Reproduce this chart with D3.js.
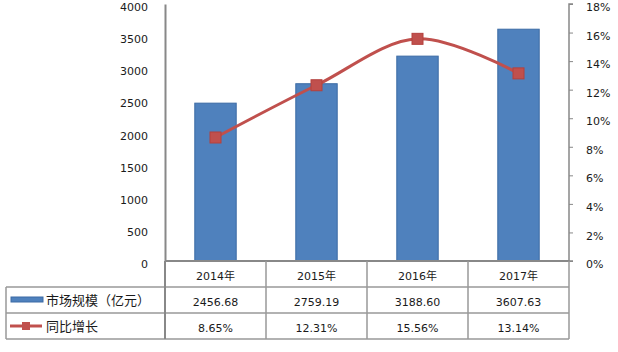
<!DOCTYPE html>
<html>
<head>
<meta charset="utf-8">
<script src="https://cdn.jsdelivr.net/npm/d3@7"></script>
<style>
  body { margin: 0; background: #fff; }
  text { font-family: "DejaVu Sans", "Noto Sans CJK SC", sans-serif; font-size: 11px; fill: #1a1a1a; }
  text.cjk { font-family: "Noto Sans CJK SC", sans-serif; font-size: 13px; }
</style>
</head>
<body>
<svg id="chart" width="618" height="352"></svg>
<script>
const years = ['2014年', '2015年', '2016年', '2017年'];
const marketSize = [2456.68, 2759.19, 3188.60, 3607.63];
const growth = [8.65, 12.31, 15.56, 13.14];
const leftTicks = [0, 500, 1000, 1500, 2000, 2500, 3000, 3500, 4000];
const rightTicks = [0, 2, 4, 6, 8, 10, 12, 14, 16, 18];
const seriesNames = ['市场规模（亿元）', '同比增长'];

const BLUE = '#4F81BD';
const RED = '#C0504D';
const GRID = '#999';

const plotLeft = 165, plotRight = 569, plotTop = 4, plotBottom = 261;
const rowH = 26;
const tableLeft = 6;

const svg = d3.select('#chart');

const x = d3.scaleBand().domain(years).range([plotLeft, plotRight]);
const yL = d3.scaleLinear().domain([0, 4000]).range([plotBottom, plotTop]);
const yR = d3.scaleLinear().domain([0, 18]).range([plotBottom, plotTop]);

// bars
const barW = x.bandwidth() * 0.41;
svg.selectAll('.bar')
  .data(marketSize)
  .enter()
  .append('rect')
  .attr('x', (d, i) => x(years[i]) + (x.bandwidth() - barW) / 2)
  .attr('y', d => yL(d))
  .attr('width', barW)
  .attr('height', d => plotBottom - yL(d))
  .style('fill', BLUE)
  .style('stroke', '#3C6BA5')
  .style('stroke-width', 1);

// left axis
const axL = svg.append('g')
  .attr('transform', `translate(${plotLeft},0)`)
  .call(d3.axisLeft(yL).tickValues(leftTicks).tickFormat(d3.format('d')).tickSize(0).tickPadding(17));
axL.select('.domain').attr('stroke', '#888').attr('stroke-width', 2);
axL.selectAll('text').attr('dy', '0.6em').attr('font-family', null).attr('font-size', null).attr('fill', null);

// right axis
const axR = svg.append('g')
  .attr('transform', `translate(${plotRight},0)`)
  .call(d3.axisRight(yR).tickValues(rightTicks).tickSize(4).tickPadding(13).tickFormat(d => d + '%'));
axR.attr('font-family', null).attr('font-size', null);
axL.attr('font-family', null).attr('font-size', null);
axR.select('.domain').attr('stroke', '#888').attr('stroke-width', 1.5).attr('d', `M4,${plotTop}H0V${plotBottom}H4`);
axR.selectAll('line').attr('stroke', '#888');
axR.selectAll('text').attr('dy', '0.6em').attr('fill', null);

// smoothed growth line
const pts = growth.map((d, i) => [x(years[i]) + x.bandwidth() / 2, yR(d)]);
svg.append('path')
  .datum(pts)
  .attr('d', d3.line().curve(d3.curveCatmullRom.alpha(0.5)))
  .style('fill', 'none')
  .style('stroke', RED)
  .style('stroke-width', 3);

svg.selectAll('.mk')
  .data(pts)
  .enter()
  .append('rect')
  .attr('x', d => d[0] - 5.5)
  .attr('y', d => d[1] - 5.5)
  .attr('width', 11)
  .attr('height', 11)
  .style('fill', RED)
  .style('stroke', '#B4403D');

// data table
const t = svg.append('g').style('stroke', GRID).style('stroke-width', 1.5);
const rows = [plotBottom, plotBottom + rowH, plotBottom + 2 * rowH, plotBottom + 3 * rowH];
t.append('line').attr('x1', plotLeft).attr('x2', plotRight).attr('y1', rows[0]).attr('y2', rows[0]).style('stroke', '#888').style('stroke-width', 2);
rows.slice(1).forEach(yy => {
  t.append('line').attr('x1', tableLeft).attr('x2', plotRight).attr('y1', yy).attr('y2', yy);
});
t.append('line').attr('x1', tableLeft).attr('x2', tableLeft).attr('y1', rows[1]).attr('y2', rows[3]);
t.append('line').attr('x1', plotLeft).attr('x2', plotLeft).attr('y1', rows[0]).attr('y2', rows[3]).style('stroke', '#888').style('stroke-width', 2);
years.forEach(yr => {
  const xx = x(yr) + x.bandwidth();
  t.append('line').attr('x1', xx).attr('x2', xx).attr('y1', rows[0]).attr('y2', rows[3]);
});

const cx = d => x(d) + x.bandwidth() / 2;
svg.selectAll('.yr').data(years).enter().append('text')
  .attr('x', d => cx(d)).attr('y', rows[0] + 19)
  .attr('text-anchor', 'middle').text(d => d);
svg.selectAll('.ms').data(marketSize).enter().append('text')
  .attr('x', (d, i) => cx(years[i])).attr('y', rows[1] + 19)
  .attr('text-anchor', 'middle').text(d => d.toFixed(2));
svg.selectAll('.gr').data(growth).enter().append('text')
  .attr('x', (d, i) => cx(years[i])).attr('y', rows[2] + 19)
  .attr('text-anchor', 'middle').text(d => d.toFixed(2) + '%');

// legend keys
svg.append('rect')
  .attr('x', 11).attr('y', rows[1] + 10)
  .attr('width', 32).attr('height', 5)
  .style('fill', BLUE).style('stroke', '#3C6BA5');
svg.append('text').attr('class', 'cjk').attr('x', 46).attr('y', rows[1] + 18).text(seriesNames[0]);

svg.append('line')
  .attr('x1', 10).attr('x2', 42).attr('y1', rows[2] + 13).attr('y2', rows[2] + 13)
  .style('stroke', RED).style('stroke-width', 3);
svg.append('rect')
  .attr('x', 22).attr('y', rows[2] + 9)
  .attr('width', 8).attr('height', 8)
  .style('fill', RED);
svg.append('text').attr('class', 'cjk').attr('x', 46).attr('y', rows[2] + 18).text(seriesNames[1]);
</script>
</body>
</html>
